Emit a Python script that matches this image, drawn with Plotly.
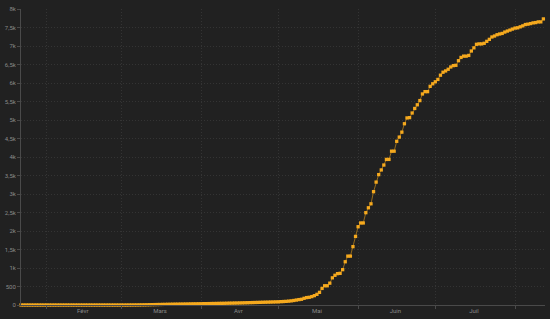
import plotly.graph_objects as go
import pandas as pd

start_date = "2020-01-22"
range_end = "2020-08-12 15:00"

# daily values
vals_jan_feb = [0, 0, 0, 0, 0, 0, 0, 0, 0, 0, 0, 0, 0, 0, 0, 0, 0, 0, 0, 0, 0,
                0, 0, 0, 0, 0, 0, 0, 0, 0, 0, 0, 0, 0, 0, 0, 0, 0, 0, 0, 0, 0]
vals_mar = [1, 1, 2, 2, 3, 4, 5, 6, 8,
            10, 11, 13, 14, 16, 17, 19, 20, 22, 23,
            24, 25, 26, 27, 28, 30, 31, 32, 33, 34]
vals_apr = [36, 37, 38, 40, 41, 42, 44, 45, 46, 48,
            50, 51, 53, 54, 56, 58, 60, 62, 64, 66,
            68, 70, 72, 74, 76, 78, 80, 82, 84, 86]
vals_may = [90, 94, 98, 104, 112, 122, 134, 146,
            155, 181, 200, 208, 227, 253, 288, 342, 448, 520, 520, 590, 734,
            803, 848, 856, 955, 1169, 1321, 1321, 1577, 1854, 2116]
vals_jun = [2217, 2217, 2495, 2628, 2735, 3063, 3322, 3524, 3650, 3783,
            3935, 3935, 4157, 4157, 4424, 4538, 4672, 4899, 5056, 5064,
            5189, 5312, 5411, 5525, 5704, 5766, 5766, 5910, 5979, 6033]
vals_jul = [6096, 6211, 6291, 6326, 6371, 6433, 6470, 6478, 6603, 6691,
            6726, 6726, 6745, 6865, 6950, 7046, 7057, 7057, 7073, 7126,
            7180, 7244, 7270, 7305, 7324, 7340, 7377, 7404, 7430, 7457, 7484]
vals_aug = [7492, 7518, 7545, 7580, 7590, 7606, 7625, 7633, 7652, 7652, 7732]

values = vals_jan_feb + vals_mar + vals_apr + vals_may + vals_jun + vals_jul + vals_aug
dates = pd.date_range(start_date, periods=len(values), freq="D")

month_labels = ["Févr", "Mars", "Avr", "Mai", "Juin", "Juil"]
month_mid = ["2020-02-15", "2020-03-16", "2020-04-15 12:00", "2020-05-16",
             "2020-06-15 12:00", "2020-07-16"]

y_tickvals = [0, 500, 1000, 1500, 2000, 2500, 3000, 3500, 4000, 4500,
              5000, 5500, 6000, 6500, 7000, 7500, 8000]
y_ticktext = ["0", "500", "1k", "1,5k", "2k", "2,5k", "3k", "3,5k", "4k", "4,5k",
              "5k", "5,5k", "6k", "6,5k", "7k", "7,5k", "8k"]

bg = "#212121"
grid = "#343434"
axis_col = "#4a4a4a"
dots = "1px,2px"

fig = go.Figure()
fig.add_trace(go.Scatter(
    x=dates, y=values, mode="lines+markers",
    line=dict(color="rgba(240,165,25,0.55)", width=1),
    marker=dict(symbol="square", size=3.3, color="#F5A91E"),
    cliponaxis=False,
))

fig.update_layout(
    width=550, height=319,
    margin=dict(l=16, r=5, t=7, b=12),
    paper_bgcolor=bg, plot_bgcolor=bg,
    showlegend=False,
    font=dict(family="Roboto", size=6, color="#8a8a8a"),
)
fig.update_xaxes(
    type="date", range=[start_date, range_end],
    tickmode="array", tickvals=month_mid, ticktext=month_labels,
    ticks="", showgrid=False, zeroline=False,
    showline=True, linecolor=axis_col, linewidth=1,
    minor=dict(tick0="2020-02-01", dtick="M1", showgrid=True, gridcolor=grid,
               griddash=dots, gridwidth=1, ticks="outside", ticklen=3,
               tickcolor=axis_col),
)
fig.update_yaxes(
    range=[0, 8000], tickmode="array", tickvals=y_tickvals, ticktext=y_ticktext,
    showgrid=True, gridcolor=grid, griddash=dots, gridwidth=1,
    zeroline=False, showline=True, linecolor=axis_col, linewidth=1,
    ticks="outside", ticklen=3, tickcolor=axis_col,
)

fig.write_html("out.html")
